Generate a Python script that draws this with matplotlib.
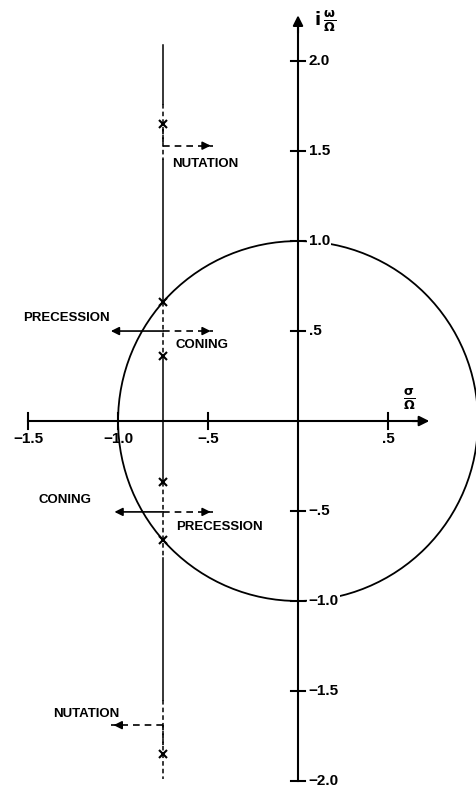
import matplotlib.pyplot as plt

# root locus data (sigma/Omega, omega/Omega)
x_ticks = [-1.5, -1.0, -0.5, 0.5]
x_tick_labels = ['\u22121.5', '\u22121.0', '\u2212.5', '.5']
y_ticks = [2.0, 1.5, 1.0, 0.5, -0.5, -1.0, -1.5, -2.0]
y_tick_labels = ['2.0', '1.5', '1.0', '.5', '\u2212.5', '\u22121.0', '\u22121.5', '\u22122.0']
root_sigma = -0.75
root_omega = [1.65, 0.66, 0.36, -0.34, -0.66, -1.85]

fig = plt.figure(figsize=(4.76, 7.94), dpi=100)
ax = fig.add_axes([0, 0, 1, 1])
ax.set_xlim(-1.656, 0.989)
ax.set_ylim(-2.072, 2.339)
ax.set_aspect('equal')
ax.axis('off')

K = 'black'
font = dict(family='Liberation Sans', fontweight='bold', color=K)

# axes with arrows
ax.plot([-1.5, 0.70], [0, 0], color=K, lw=1.5)
ax.plot([0, 0], [-2.0, 2.22], color=K, lw=1.5)
ax.annotate('', xy=(0.745, 0), xytext=(0.62, 0),
            arrowprops=dict(arrowstyle='-|>', color=K, lw=1.5, mutation_scale=15))
ax.annotate('', xy=(0, 2.27), xytext=(0, 2.14),
            arrowprops=dict(arrowstyle='-|>', color=K, lw=1.5, mutation_scale=15))

# tick marks and labels
for x, lab in zip(x_ticks, x_tick_labels):
    ax.plot([x, x], [-0.045, 0.045], color=K, lw=1.5)
    ax.text(x, -0.1, lab, ha='center', va='center', fontsize=11, **font)
for y, lab in zip(y_ticks, y_tick_labels):
    ax.plot([-0.04, 0.04], [y, y], color=K, lw=1.5)
    ax.text(0.06, y, lab, ha='left', va='center', fontsize=11, zorder=4,
            bbox=dict(facecolor='white', edgecolor='none', pad=1.0), **font)

# unit circle
circle = plt.Circle((0, 0), 1.0, fill=False, color=K, lw=1.3, zorder=2)
ax.add_patch(circle)

# vertical line through the roots, dashed near each root pair
segments = [(2.09, 1.76, '-'), (1.76, 1.45, '--'), (1.45, 0.66, '-'),
            (0.66, 0.36, '--'), (0.36, -0.34, '-'), (-0.34, -0.76, '--'),
            (-0.76, -1.55, '-'), (-1.55, -1.99, '--')]
for y0, y1, ls in segments:
    ax.plot([root_sigma, root_sigma], [y0, y1], color=K, lw=1.1,
            linestyle=ls if ls == '-' else (0, (3, 2)))

ax.plot([root_sigma] * len(root_omega), root_omega, 'x', color=K,
        ms=5.5, mew=1.5, zorder=5)


def dashed_arrow(x0, x1, y):
    ax.plot([x0, x1], [y, y], color=K, lw=1.2, linestyle=(0, (4, 3)))
    d = 0.05 if x1 > x0 else -0.05
    ax.annotate('', xy=(x1, y), xytext=(x1 - d, y),
                arrowprops=dict(arrowstyle='-|>', color=K, lw=1.2,
                                mutation_scale=12))


def solid_arrow(x0, x1, y):
    ax.annotate('', xy=(x1, y), xytext=(x0, y),
                arrowprops=dict(arrowstyle='-|>', color=K, lw=1.2,
                                mutation_scale=12, shrinkA=0, shrinkB=0))


# nutation (upper): L-shaped dashed arrow
ax.plot([root_sigma, root_sigma], [1.62, 1.53], color=K, lw=1.2, linestyle=(0, (3, 2)))
dashed_arrow(root_sigma, -0.47, 1.53)
ax.text(-0.70, 1.43, 'NUTATION', ha='left', va='center', fontsize=9.5, **font)

# precession / coning (upper)
solid_arrow(root_sigma, -1.04, 0.5)
dashed_arrow(root_sigma, -0.47, 0.5)
ax.text(-1.53, 0.57, 'PRECESSION', ha='left', va='center', fontsize=9.5, **font)
ax.text(-0.68, 0.42, 'CONING', ha='left', va='center', fontsize=9.5, **font)

# coning / precession (lower)
solid_arrow(root_sigma, -1.02, -0.505)
dashed_arrow(root_sigma, -0.47, -0.505)
ax.text(-1.44, -0.44, 'CONING', ha='left', va='center', fontsize=9.5, **font)
ax.text(-0.68, -0.59, 'PRECESSION', ha='left', va='center', fontsize=9.5, **font)

# nutation (lower)
dashed_arrow(root_sigma, -1.04, -1.69)
ax.plot([root_sigma, root_sigma], [-1.69, -1.80], color=K, lw=1.2, linestyle=(0, (3, 2)))
ax.text(-1.36, -1.63, 'NUTATION', ha='left', va='center', fontsize=9.5, **font)

# axis titles
ax.text(0.62, 0.12, r'$\mathbf{\frac{\sigma}{\Omega}}$', ha='center', va='center',
        fontsize=13, color=K)
ax.text(0.09, 2.22, r'$\mathbf{i\,\frac{\omega}{\Omega}}$', ha='left', va='center',
        fontsize=13, color=K)

fig.savefig('out.png', dpi=100)
